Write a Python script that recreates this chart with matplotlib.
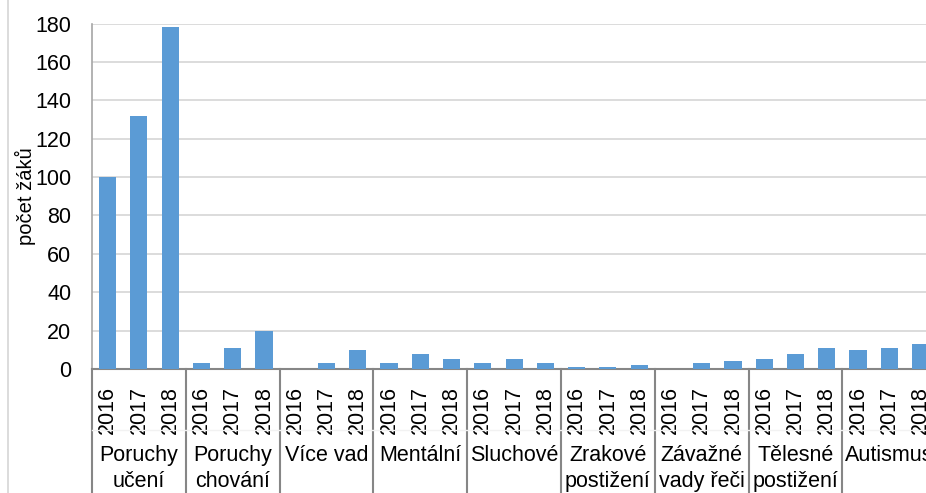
import matplotlib.pyplot as plt
from matplotlib.lines import Line2D

plt.rcParams['font.family'] = ['Liberation Sans', 'DejaVu Sans']

categories = ['Poruchy\nučení', 'Poruchy\nchování', 'Více vad', 'Mentální', 'Sluchové',
              'Zrakové\npostižení', 'Závažné\nvady řeči', 'Tělesné\npostižení', 'Autismus']
years = ['2016', '2017', '2018']
values = [
    [100, 132, 178],
    [3, 11, 20],
    [0, 3, 10],
    [3, 8, 5],
    [3, 5, 3],
    [1, 1, 2],
    [0, 3, 4],
    [5, 8, 11],
    [10, 11, 13],
]

W, H = 926, 493
fig = plt.figure(figsize=(W / 100, H / 100), dpi=100)

left, right, top, bottom = 92, 92 + 9 * 93.8, 23.5, 369
ax = fig.add_axes([left / W, (H - bottom) / H, (right - left) / W, (bottom - top) / H])

xs, hs, ticklabels = [], [], []
for i, vals in enumerate(values):
    for j, v in enumerate(vals):
        xs.append(i * 3 + j)
        hs.append(v)
        ticklabels.append(years[j])

ax.bar(xs, hs, width=0.55, color='#5B9BD5', zorder=3)
ax.set_xlim(-0.5, len(values) * 3 - 0.5)
ax.set_ylim(0, 180)
ax.set_yticks(range(0, 181, 20))
ax.yaxis.grid(True, color='#D9D9D9', linewidth=1.3, zorder=0)
ax.tick_params(axis='y', length=0, pad=15, labelsize=15.5)
ax.set_xticks(xs)
ax.set_xticklabels(ticklabels, rotation=90, fontsize=15.5)
ax.tick_params(axis='x', length=0, pad=12)

for s in ['top', 'right']:
    ax.spines[s].set_visible(False)
ax.spines['left'].set_color('#A6A6A6')
ax.spines['left'].set_linewidth(1.2)
ax.spines['bottom'].set_color('#868686')
ax.spines['bottom'].set_linewidth(1.5)

# group separators and group labels
for i, cat in enumerate(categories):
    xb = i * 3 - 0.5
    ax.plot([xb, xb], [0, -0.5], color='#868686', linewidth=1.5,
            transform=ax.get_xaxis_transform(), clip_on=False)
    ax.annotate(cat, xy=(i * 3 + 1, 0), xycoords=('data', 'axes fraction'),
                xytext=(0, -76), textcoords='offset pixels',
                ha='center', va='top', fontsize=15.5, linespacing=1.3)

fig.text(25 / W, 1 - 196.5 / H, 'počet žáků', rotation=90, ha='center', va='center',
         fontsize=14.5)

fig.add_artist(Line2D([7.5 / W, 7.5 / W], [0, 1], color='#D9D9D9', linewidth=1.3))
fig.add_artist(Line2D([left / W, 1], [1 - 430 / H, 1 - 430 / H], color='#F2F2F2', linewidth=1))

fig.savefig('out.png', dpi=100)
